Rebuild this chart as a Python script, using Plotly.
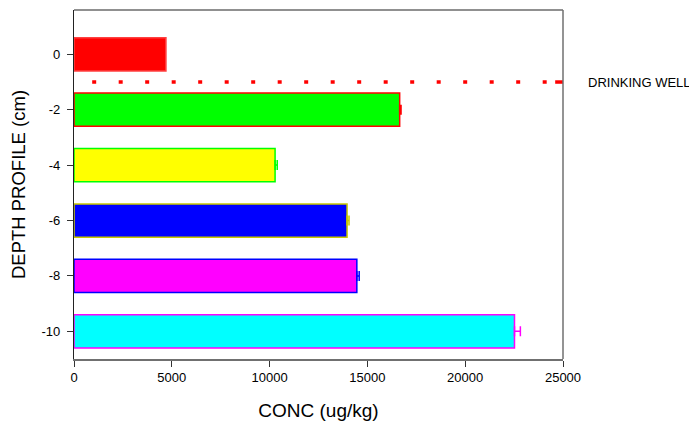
import plotly.graph_objects as go

depths = [0, -2, -4, -6, -8, -10]
conc = [4700, 16650, 10280, 13960, 14460, 22520]
conc_err = [0, 70, 110, 100, 120, 300]
fill_colors = ["#ff0000", "#00ff00", "#ffff00", "#0000ff", "#ff00ff", "#00ffff"]
edge_colors = ["#ff4040", "#ff0000", "#00ff00", "#c8c800", "#0000ff", "#ff00ff"]

well_depth = -1
well_x = [930, 24300]
well_tail = [24600, 25000]
well_label = "DRINKING WELL"

x_ticks = [0, 5000, 10000, 15000, 20000, 25000]
x_tick_labels = ["0", "5000", "10000", "15000", "20000", "25000"]
y_ticks = [0, -2, -4, -6, -8, -10]
y_tick_labels = ["0", "-2", "-4", "-6", "-8", "-10"]

fig = go.Figure()
for d, c, e, fc, ec in zip(depths, conc, conc_err, fill_colors, edge_colors):
    fig.add_trace(go.Bar(
        x=[c], y=[d], orientation="h", width=1.2,
        marker=dict(color=fc, line=dict(color=ec, width=1.5)),
        error_x=dict(type="data", symmetric=False, array=[e], arrayminus=[0],
                     visible=e > 0, color=ec, thickness=1.5, width=5),
        showlegend=False,
    ))

fig.add_trace(go.Scatter(
    x=well_x, y=[well_depth, well_depth], mode="lines",
    line=dict(color="#ff0000", width=3.5, dash="4px,22.5px"),
    showlegend=False, hoverinfo="skip",
))
fig.add_trace(go.Scatter(
    x=well_tail, y=[well_depth, well_depth], mode="lines",
    line=dict(color="#ff0000", width=3.5),
    showlegend=False, hoverinfo="skip", cliponaxis=False,
))

fig.add_annotation(
    x=1, xref="paper", xshift=23, y=well_depth, yref="y",
    text=well_label, showarrow=False, xanchor="left", yanchor="middle",
    font=dict(family="Liberation Sans, Arial", size=13, color="black"),
)

fig.add_shape(type="line", xref="paper", yref="paper", x0=0, x1=1, y0=1, y1=1,
              line=dict(color="#222222", width=1.2))
fig.add_shape(type="line", xref="paper", yref="paper", x0=1, x1=1, y0=0, y1=1,
              line=dict(color="#707070", width=1.5))

# the page body adds an 8px offset; margins compensate for it
fig.update_layout(
    width=697, height=425,
    margin=dict(l=66, r=142, t=2, b=74),
    paper_bgcolor="white", plot_bgcolor="white",
    font=dict(family="Liberation Sans, Arial", color="black", size=13),
    barmode="overlay",
    xaxis=dict(
        range=[0, 25000], tickvals=x_ticks, ticktext=x_tick_labels,
        ticks="outside", ticklen=6, automargin=False,
        tickcolor="#333333", showline=True, linecolor="#707070", linewidth=1.5,
        showgrid=False, zeroline=False,
        title=dict(text="CONC (ug/kg)", font=dict(size=19), standoff=19),
        tickfont=dict(size=13),
    ),
    yaxis=dict(
        range=[-11.0, 1.6], tickvals=y_ticks, ticktext=y_tick_labels,
        ticks="outside", ticklen=6, automargin=False, ticklabelstandoff=4,
        tickcolor="#333333", showline=True, linecolor="#222222", linewidth=1.2,
        showgrid=False, zeroline=False,
        title=dict(text="DEPTH PROFILE (cm)", font=dict(size=18.5), standoff=14),
        tickfont=dict(size=13),
    ),
)

fig.write_html("out.html")
